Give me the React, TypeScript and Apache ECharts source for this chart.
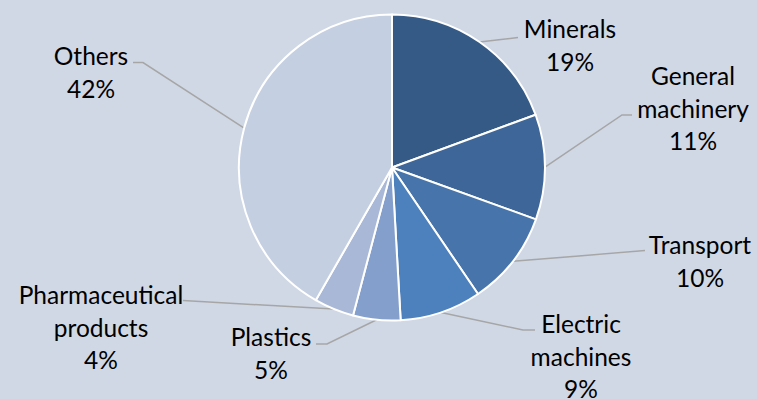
import React, { useEffect, useRef } from "react";
import * as echarts from "echarts";

const categories = [
  "Minerals",
  "General machinery",
  "Transport",
  "Electric machines",
  "Plastics",
  "Pharmaceutical products",
  "Others",
];
const shares = [19.4, 11.1, 10.0, 8.6, 5.0, 4.2, 41.7];
const sliceColors = [
  "#355A86",
  "#3E6698",
  "#4775AB",
  "#4D81BD",
  "#849FCB",
  "#A9B8D7",
  "#C4CFE1",
];

// label placement (block centre) and leader-line bends
const labelPlacement: { x: number; y: number; mid?: number[]; end: number[] }[] = [
  { x: 570, y: 45, end: [518, 37.5] },
  { x: 693, y: 108, mid: [622, 115], end: [632, 115] },
  { x: 700, y: 261, end: [645, 250.5] },
  { x: 581, y: 356, mid: [523, 330], end: [535, 330] },
  { x: 271, y: 353, mid: [327, 344], end: [316, 344] },
  { x: 101, y: 327, end: [183, 300.5] },
  { x: 91, y: 72, mid: [143, 62.5], end: [133, 62.5] },
];

export default function App() {
  const ref = useRef<HTMLDivElement>(null);
  useEffect(() => {
    document.body.style.margin = "0";
    const chart = echarts.init(ref.current!, null, { renderer: "svg" });
    chart.setOption({
      animation: false,
      backgroundColor: "#D0D8E6",
      series: [
        {
          type: "pie",
          center: [392, 167.5],
          radius: 153,
          startAngle: 90,
          clockwise: true,
          data: categories.map((name, i) => ({
            name,
            value: shares[i],
            itemStyle: { color: sliceColors[i] },
          })),
          itemStyle: { borderColor: "#FFFFFF", borderWidth: 2 },
          label: {
            show: true,
            position: "outer",
            color: "#000000",
            fontFamily: "Lato",
            fontSize: 24.5,
            lineHeight: 32.5,
            align: "center",
            formatter: (p: any) =>
              `${p.name.replace(" ", "\n")}\n${Math.round(p.percent)}%`,
          },
          labelLine: {
            show: true,
            lineStyle: { color: "#A6A6A6", width: 1.5 },
          },
          labelLayout: (p: any) => {
            const L = labelPlacement[p.dataIndex];
            const start = p.labelLinePoints ? p.labelLinePoints[0] : L.end;
            const mid = L.mid || [
              (start[0] + L.end[0]) / 2,
              (start[1] + L.end[1]) / 2,
            ];
            return {
              x: L.x,
              y: L.y,
              align: "center",
              verticalAlign: "middle",
              labelLinePoints: [start, mid, L.end],
            };
          },
          emphasis: { disabled: true },
        },
      ],
    });
    return () => chart.dispose();
  }, []);
  return <div ref={ref} style={{ width: 757, height: 399 }} />;
}
